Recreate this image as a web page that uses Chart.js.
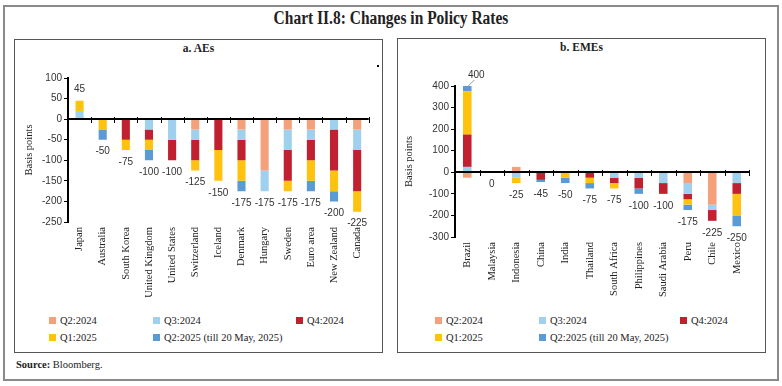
<!DOCTYPE html>
<html>
<head>
<meta charset="utf-8">
<script src="https://cdn.jsdelivr.net/npm/chart.js@4.4.1/dist/chart.umd.min.js"></script>
<style>
  body { margin: 0; width: 782px; height: 386px; background: #fff; position: relative; overflow: hidden;
         font-family: "Liberation Serif", serif; color: #222; }
  #outer { position: absolute; left: 3px; top: 5px; width: 772px; height: 372px; border: 2px solid #8a8a8a; }
  .panel { position: absolute; border: 1px solid #555; box-sizing: border-box; }
  .ptitle { position: absolute; left: 0; right: 0; top: 2px; text-align: center; font-weight: bold; font-size: 11.5px; }
  #title { position: absolute; left: 0; width: 782px; top: 8px; text-align: center; font-weight: bold; font-size: 18px;
           transform: scaleX(0.86); }
  .leg { position: absolute; font-size: 10.5px; white-space: nowrap; }
  .leg span.sw { display: inline-block; width: 7px; height: 7px; margin-right: 4px; vertical-align: 0px; }
  #source { position: absolute; left: 16px; top: 359px; font-size: 10.5px; }
  canvas { position: absolute; }
</style>
</head>
<body>
<div id="outer"></div>
<div id="title">Chart II.8: Changes in Policy Rates</div>
<div class="panel" style="left:14px;top:39px;width:369px;height:314px;"><div class="ptitle">a. AEs</div></div>
<div class="panel" style="left:397px;top:38px;width:369px;height:315px;"><div class="ptitle">b. EMEs</div></div>
<div style="position:absolute;left:377px;top:65px;width:2px;height:2px;background:#000;"></div>
<canvas id="aeChart" style="left:20px;top:65px;" width="355" height="240"></canvas>
<canvas id="emChart" style="left:400px;top:70px;" width="355" height="235"></canvas>
<div id="aeLegend"></div>
<div id="emLegend"></div>
<div id="source"><b>Source:</b> Bloomberg.</div>

<script>
// quarters shown in both panels
const seriesNames = ["Q2:2024", "Q3:2024", "Q4:2024", "Q1:2025", "Q2:2025 (till 20 May, 2025)"];
const seriesColors = ["#F4A07A", "#9FD0EE", "#C0202F", "#FFC20E", "#5B9BD5"];

// a. AEs
const aeCountries = ["Japan", "Australia", "South Korea", "United Kingdom", "United States", "Switzerland",
  "Iceland", "Denmark", "Hungary", "Sweden", "Euro area", "New Zealand", "Canada"];
const aeQ2_2024 = [0, 0, 0, 0, 0, -25, 0, -25, -125, -25, -25, 0, -25];
const aeQ3_2024 = [20, 0, 0, -25, -50, -25, 0, -25, -50, -50, -25, -25, -50];
const aeQ4_2024 = [0, 0, -50, -25, -50, -50, -75, -50, 0, -75, -50, -100, -100];
const aeQ1_2025 = [25, -25, -25, -25, 0, -25, -75, -50, 0, -25, -50, -50, -50];
const aeQ2_2025 = [0, -25, 0, -25, 0, 0, 0, -25, 0, 0, -25, -25, 0];
const aeTotals = [45, -50, -75, -100, -100, -125, -150, -175, -175, -175, -175, -200, -225];

// b. EMEs
const emCountries = ["Brazil", "Malaysia", "Indonesia", "China", "India", "Thailand", "South Africa",
  "Philippines", "Saudi Arabia", "Peru", "Chile", "Mexico"];
const emQ2_2024 = [-25, 0, 25, 0, 0, 0, 0, 0, 0, -50, -150, 0];
const emQ3_2024 = [25, 0, -25, 0, 0, 0, -25, -25, -50, -50, -25, -50];
const emQ4_2024 = [150, 0, 0, -35, 0, -25, -25, -50, -50, -25, -50, -50];
const emQ1_2025 = [200, 0, -25, 0, -25, -25, -25, 0, 0, -25, 0, -100];
const emQ2_2025 = [25, 0, 0, -10, -25, -25, 0, -25, 0, -25, 0, -50];
const emTotals = [400, 0, -25, -45, -50, -75, -75, -100, -100, -175, -225, -250];

Chart.defaults.font.family = "'Liberation Sans', sans-serif";
Chart.defaults.font.size = 10;
Chart.defaults.color = "#333";

// black zero line with small ticks between categories
const zeroAxis = {
  id: "zeroAxis",
  afterDatasetsDraw(chart) {
    const { ctx, chartArea, scales: { x, y } } = chart;
    const y0 = Math.round(y.getPixelForValue(0));
    ctx.save();
    ctx.strokeStyle = "#000";
    ctx.lineWidth = 2;
    ctx.beginPath();
    ctx.moveTo(chartArea.left, y0);
    ctx.lineTo(chartArea.right, y0);
    ctx.stroke();
    ctx.lineWidth = 1;
    const n = chart.data.labels.length;
    const step = x.getPixelForValue(1) - x.getPixelForValue(0);
    for (let i = 1; i <= n; i++) {
      const px = Math.round(x.getPixelForValue(i - 1) + step / 2) + 0.5;
      ctx.beginPath();
      ctx.moveTo(px, y0 - 2);
      ctx.lineTo(px, y0 + 4);
      ctx.stroke();
    }
    ctx.restore();
  }
};

// total labels at the end of each stack
const totalLabels = {
  id: "totalLabels",
  afterDatasetsDraw(chart, args, opts) {
    const { ctx, scales: { x, y } } = chart;
    const ds = chart.data.datasets;
    ctx.save();
    ctx.font = "10px 'Liberation Sans', sans-serif";
    ctx.fillStyle = "#333";
    ctx.textAlign = "center";
    ctx.textBaseline = "middle";
    opts.values.forEach((v, i) => {
      let pos = 0, neg = 0;
      ds.forEach(d => { const a = d.data[i]; if (a > 0) pos += a; else neg += a; });
      const px = x.getPixelForValue(i);
      if (v > 0) {
        const top = y.getPixelForValue(pos);
        const shift = opts.shiftUp || 0;
        if (shift) {
          // short leader line like the original label
          ctx.strokeStyle = "#999";
          ctx.lineWidth = 1;
          ctx.beginPath();
          ctx.moveTo(px + 1, top);
          ctx.lineTo(px + shift - 2, top - 6);
          ctx.stroke();
        }
        ctx.fillText(String(v), px + shift, top - 11);
      } else {
        ctx.fillText(String(v), px, y.getPixelForValue(neg) + 12);
      }
    });
    ctx.restore();
  }
};

function makeDatasets(arrays) {
  return arrays.map((arr, k) => ({
    label: seriesNames[k],
    data: arr,
    backgroundColor: seriesColors[k],
    borderWidth: 0,
    barPercentage: 0.35,
    categoryPercentage: 1.0
  }));
}

function makeChart(id, labels, arrays, totals, yMin, yMax, yStep, yWidth, xHeight, padTop, shiftUp) {
  return new Chart(document.getElementById(id), {
    type: "bar",
    data: { labels: labels, datasets: makeDatasets(arrays) },
    options: {
      responsive: false,
      animation: false,
      layout: { padding: { top: padTop, right: 6, left: 0, bottom: 0 } },
      plugins: {
        legend: { display: false },
        tooltip: { enabled: false },
        totalLabels: { values: totals, shiftUp: shiftUp }
      },
      scales: {
        x: {
          stacked: true,
          border: { display: false },
          grid: { display: false, drawTicks: false },
          ticks: {
            autoSkip: false, maxRotation: 90, minRotation: 90, padding: 5,
            font: { family: "'Liberation Serif', serif", size: 10.5 }, color: "#222"
          },
          afterFit: s => { s.height = xHeight; }
        },
        y: {
          stacked: true,
          min: yMin, max: yMax,
          border: { color: "#000", width: 2 },
          grid: { drawOnChartArea: false, drawTicks: true, tickLength: 4, color: "#000" },
          ticks: { stepSize: yStep, padding: 2 },
          title: {
            display: true, text: "Basis points", padding: { top: 3, bottom: 0 },
            font: { family: "'Liberation Serif', serif", size: 10.5 }, color: "#222"
          },
          afterFit: s => { s.width = yWidth; }
        }
      }
    },
    plugins: [zeroAxis, totalLabels]
  });
}

makeChart("aeChart", aeCountries, [aeQ2_2024, aeQ3_2024, aeQ4_2024, aeQ1_2025, aeQ2_2025],
  aeTotals, -250, 100, 50, 48, 83, 13, 0);
makeChart("emChart", emCountries, [emQ2_2024, emQ3_2024, emQ4_2024, emQ1_2025, emQ2_2025],
  emTotals, -300, 400, 100, 55, 68, 16, 9);

// legends: 3 items on first row, 2 on second
function makeLegend(id, left, colX) {
  const box = document.getElementById(id);
  seriesNames.forEach((name, k) => {
    const item = document.createElement("div");
    item.className = "leg";
    const row = k < 3 ? 0 : 1;
    const col = k < 3 ? k : k - 3;
    item.style.left = (left + colX[col]) + "px";
    item.style.top = (315 + row * 17) + "px";
    item.innerHTML = '<span class="sw" style="background:' + seriesColors[k] + '"></span>' + name;
    box.appendChild(item);
  });
}
makeLegend("aeLegend", 0, [49, 153, 296]);
makeLegend("emLegend", 0, [435, 539, 680]);
</script>
</body>
</html>
